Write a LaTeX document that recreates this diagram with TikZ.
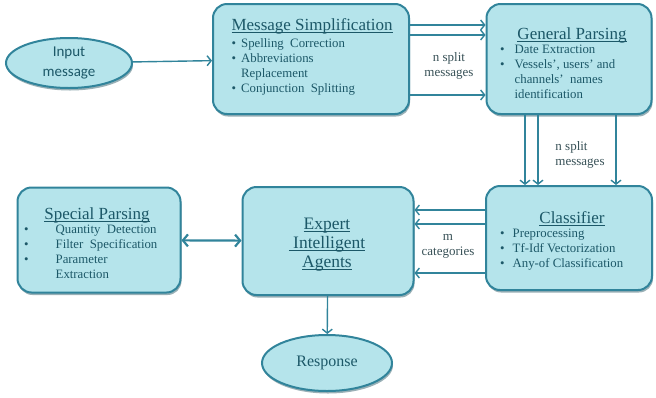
\documentclass[tikz,border=0pt]{standalone}
\usepackage{fontspec}
\usepackage{amsmath}
\setmainfont{Liberation Serif}
\newfontfamily\sansfont{Carlito}
\usetikzlibrary{arrows.meta,shapes.geometric,shadows}
\definecolor{boxfill}{RGB}{181,228,235}
\definecolor{boxline}{RGB}{49,132,155}
\definecolor{boxtext}{RGB}{28,88,104}
\definecolor{notetext}{RGB}{55,80,86}
\newcommand{\ulin}[1]{\underline{\smash[b]{#1}}}% underline through descenders

\begin{document}
\begin{tikzpicture}[x=1pt,y=-1pt,
	box/.style={draw=boxline, line width=2pt, fill=boxfill, rounded corners=14pt,
		drop shadow={shadow xshift=1pt, shadow yshift=-2.5pt, opacity=.45, fill=boxline!60!black}},
	oval/.style={ellipse, draw=boxline, line width=2pt, fill=boxfill, inner sep=0pt,
		drop shadow={shadow xshift=1pt, shadow yshift=-2.5pt, opacity=.45, fill=boxline!60!black}},
	title/.style={text=boxtext, font=\fontsize{17}{19}\selectfont, align=center},
	items/.style={text=boxtext, font=\fontsize{12.8}{15}\selectfont, inner sep=0pt, anchor=north west},
	note/.style={text=notetext, font=\fontsize{13}{15}\selectfont, align=center},
	flow/.style={draw=boxline, line width=1.4pt, -{Straight Barb[length=4pt,width=10pt]}}]
	\useasboundingbox (0,0) rectangle (656,397);% page size

	% boxes
	\node[oval, minimum width=126pt, minimum height=50pt] (input) at (69,63) {};
	\node[box, minimum width=196pt, minimum height=110pt] (simp) at (311,59) {};
	\node[box, minimum width=165pt, minimum height=110pt] (gen) at (569,59) {};
	\node[box, minimum width=166pt, minimum height=104pt] (cls) at (569,238) {};
	\node[box, minimum width=171pt, minimum height=108pt] (agent) at (328,241) {};
	\node[box, minimum width=163pt, minimum height=105pt] (spec) at (99,240) {};
	\node[oval, minimum width=130pt, minimum height=56pt] (resp) at (327,363) {};

	% texts
	\node[text=boxtext, font=\sansfont\fontsize{15}{20}\selectfont, align=center] (input text) at (input) {Input\\message};
	\node[title] (simp title) at (312,26) {\ulin{Message Simplification}};
	\node[items] (simp list) at (231.5,36.5) {\begin{tabular}{@{}l@{\hspace{5pt}}l@{}}
		\textbullet & Spelling\ \ Correction\\
		\textbullet & Abbreviations\\
		& Replacement\\
		\textbullet & Conjunction\ \ Splitting
	\end{tabular}};
	\node[title] (gen title) at (572,35) {\ulin{General Parsing}};
	\node[items] (gen list) at (500,43) {\begin{tabular}{@{}l@{\hspace{10pt}}l@{}}
		\textbullet & Date Extraction\\
		\textbullet & Vessels', users' and\\
		& channels'\ \ names\\
		& identification
	\end{tabular}};
	\node[title] (cls title) at (572,219) {\ulin{Classifier}};
	\node[items] (cls list) at (500,226.5) {\begin{tabular}{@{}l@{\hspace{8pt}}l@{}}
		\textbullet & Preprocessing\\
		\textbullet & Tf-Idf Vectorization\\
		\textbullet & Any-of Classification
	\end{tabular}};
	\node[title, font=\fontsize{17.5}{19}\selectfont] (agent title) at (327,244) {\ulin{Expert}\\\ulin{ Intelligent}\\\ulin{Agents}};
	\node[title] (spec title) at (97,215) {\ulin{Special Parsing}};
	\node[items] (spec list) at (24,223) {\begin{tabular}{@{}l@{\hspace{27pt}}l@{}}
		\textbullet & Quantity\ \ Detection\\
		\textbullet & Filter\ \ Specification\\
		\textbullet & Parameter\\
		& Extraction
	\end{tabular}};
	\node[text=boxtext, font=\fontsize{16}{17}\selectfont] (resp text) at (resp) {Response};

	% connectors
	\draw[flow] (input) -- (simp);
	\foreach \y in {25,35,95}
		\draw[flow] (simp.east |- 0,\y) -- (gen.west |- 0,\y);
	\node[note] (split a) at (449,66) {n split\\messages};
	\foreach \x in {525,538,616}
		\draw[flow] (gen.south -| \x,0) -- (cls.north -| \x,0);
	\node[note, align=left] (split b) at (580,155) {n split\\messages};
	\foreach \y in {210,224,273}
		\draw[flow] (cls.west |- 0,\y) -- (agent.east |- 0,\y);
	\node[note] (cats) at (448,246) {m\\categories};
	\draw[flow, line width=2.2pt, {Straight Barb[length=5pt,width=12pt]}-{Straight Barb[length=5pt,width=12pt]}] (spec) -- (agent);
	\draw[flow] (agent) -- (resp);
\end{tikzpicture}
\end{document}
